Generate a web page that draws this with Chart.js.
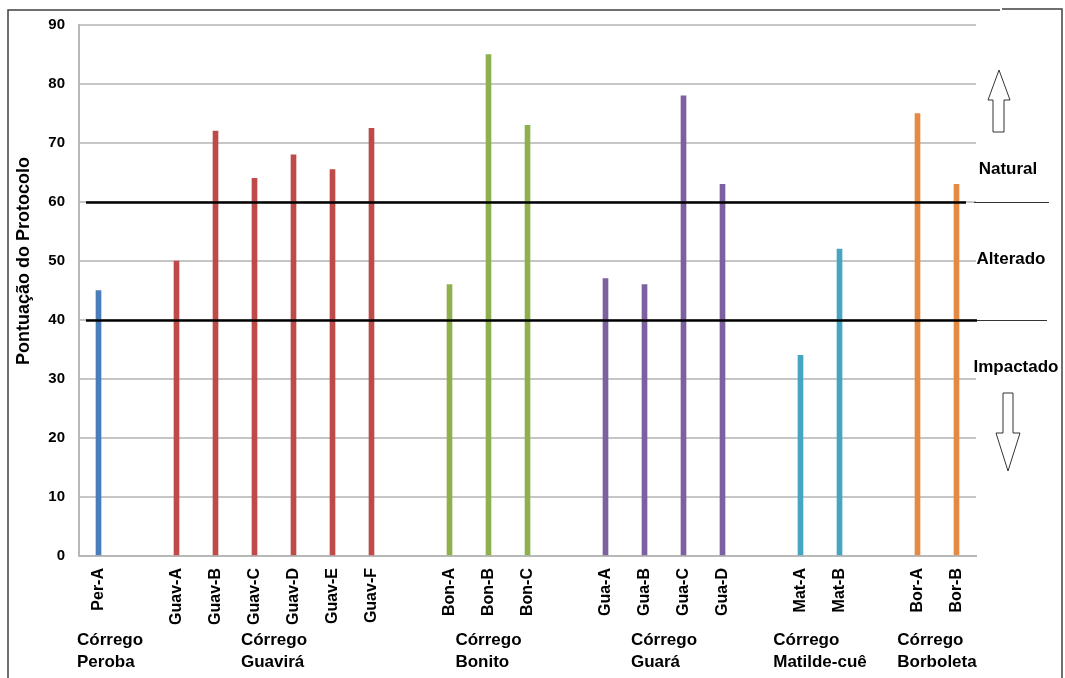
<!DOCTYPE html>
<html>
<head>
<meta charset="utf-8">
<script src="https://cdn.jsdelivr.net/npm/chart.js@4.4.1/dist/chart.umd.min.js"></script>
<style>
  body { margin: 0; background: #fff; }
  #box { width: 1065px; height: 678px; }
</style>
</head>
<body>
<div id="box"><canvas id="myChart" width="1065" height="678"></canvas></div>
<script>
// sites on the x axis ('' = gap between streams)
const sites = ['Per-A', '', 'Guav-A', 'Guav-B', 'Guav-C', 'Guav-D', 'Guav-E', 'Guav-F', '',
  'Bon-A', 'Bon-B', 'Bon-C', '', 'Gua-A', 'Gua-B', 'Gua-C', 'Gua-D', '', 'Mat-A', 'Mat-B', '', 'Bor-A', 'Bor-B']
const scores = [45, null, 50, 72, 64, 68, 65.5, 72.5, null,
  46, 85, 73, null, 47, 46, 78, 63, null, 34, 52, null, 75, 63]
// which stream each site belongs to
const streamOf = [0, null, 1, 1, 1, 1, 1, 1, null, 2, 2, 2, null, 3, 3, 3, 3, null, 4, 4, null, 5, 5]
const streams = [['Córrego', 'Peroba'], ['Córrego', 'Guavirá'], ['Córrego', 'Bonito'],
  ['Córrego', 'Guará'], ['Córrego', 'Matilde-cuê'], ['Córrego', 'Borboleta']]
const streamColors = ['#4a7ebb', '#be4b48', '#8fb04e', '#7d60a0', '#46a5c0', '#e58a44']
const yTicks = [0, 10, 20, 30, 40, 50, 60, 70, 80, 90]
const limits = [60, 40]
const classes = ['Natural', 'Alterado', 'Impactado']
const classAt = [65.5, 50.3, 32]

const FONT = "'Liberation Sans', Arial, sans-serif"

const barColors = streamOf.map(s => s === null ? 'rgba(0,0,0,0)' : streamColors[s])

const extras = {
  id: 'extras',
  afterDatasetsDraw(chart) {
    const ctx = chart.ctx
    const y = chart.scales.y
    const x = chart.scales.x
    const area = chart.chartArea
    ctx.save()

    // outer frame
    ctx.strokeStyle = '#404040'
    ctx.lineWidth = 1.5
    ctx.beginPath()
    ctx.moveTo(8, 678); ctx.lineTo(8, 10); ctx.lineTo(1000, 10)
    ctx.moveTo(1002, 9); ctx.lineTo(1062, 9); ctx.lineTo(1062, 678)
    ctx.stroke()

    // class limits
    const ends = [966, 977]
    const thin = [[974, 1049], [977, 1047]]
    limits.forEach((v, i) => {
      const py = Math.round(y.getPixelForValue(v)) + 0.5
      ctx.strokeStyle = '#000'
      ctx.lineWidth = 2.5
      ctx.beginPath()
      ctx.moveTo(area.left + 7, py); ctx.lineTo(ends[i], py)
      ctx.stroke()
      ctx.strokeStyle = '#333'
      ctx.lineWidth = 1
      ctx.beginPath()
      ctx.moveTo(thin[i][0], py); ctx.lineTo(thin[i][1], py)
      ctx.stroke()
    })

    // class names
    ctx.fillStyle = '#000'
    ctx.font = 'bold 17px ' + FONT
    ctx.textBaseline = 'middle'
    ctx.textAlign = 'center'
    const cx = [1008, 1011, 1016]
    classes.forEach((c, i) => ctx.fillText(c, cx[i], y.getPixelForValue(classAt[i])))

    // arrows
    ctx.fillStyle = '#fff'
    ctx.strokeStyle = '#333'
    ctx.lineWidth = 1
    ctx.beginPath()
    ctx.moveTo(999, 70); ctx.lineTo(1010, 100); ctx.lineTo(1004, 100); ctx.lineTo(1004, 132)
    ctx.lineTo(993, 132); ctx.lineTo(993, 100); ctx.lineTo(988, 100); ctx.closePath()
    ctx.fill(); ctx.stroke()
    ctx.beginPath()
    ctx.moveTo(1003, 393); ctx.lineTo(1013, 393); ctx.lineTo(1013, 433); ctx.lineTo(1020, 433)
    ctx.lineTo(1008, 471); ctx.lineTo(996, 433); ctx.lineTo(1003, 433); ctx.closePath()
    ctx.fill(); ctx.stroke()

    // stream names under the site labels
    ctx.fillStyle = '#000'
    ctx.font = 'bold 17px ' + FONT
    ctx.textAlign = 'left'
    streams.forEach((lines, s) => {
      const idx = streamOf.map((v, i) => v === s ? i : -1).filter(i => i >= 0)
      const mid = (x.getPixelForValue(idx[0]) + x.getPixelForValue(idx[idx.length - 1])) / 2
      const w = Math.max(...lines.map(t => ctx.measureText(t).width))
      const x0 = Math.max(mid - w / 2, area.left - 2)
      ctx.fillText(lines[0], x0, area.bottom + 84)
      ctx.fillText(lines[1], x0, area.bottom + 106)
    })

    // y title
    ctx.translate(24, 261)
    ctx.rotate(-Math.PI / 2)
    ctx.textAlign = 'center'
    ctx.font = 'bold 18px ' + FONT
    ctx.fillText('Pontuação do Protocolo', 0, 0)
    ctx.restore()
  }
}

new Chart(document.getElementById('myChart'), {
  type: 'bar',
  data: {
    labels: sites,
    datasets: [{
      data: scores,
      backgroundColor: barColors,
      barThickness: 5
    }]
  },
  options: {
    responsive: false,
    animation: false,
    layout: { padding: { top: 25, right: 89, left: 0, bottom: 0 } },
    plugins: { legend: { display: false }, tooltip: { enabled: false } },
    scales: {
      x: {
        grid: { display: false },
        border: { display: true, color: '#b8b8b8', width: 2 },
        ticks: {
          autoSkip: false, minRotation: 90, maxRotation: 90, padding: 4,
          color: '#000', font: { family: FONT, size: 16, weight: 'bold' }
        },
        afterFit(scale) { scale.height = 122 }
      },
      y: {
        min: 0, max: 90,
        afterBuildTicks(scale) { scale.ticks = yTicks.map(v => ({ value: v })) },
        grid: { color: '#c6c6c6', lineWidth: 2, drawTicks: false },
        border: { display: true, color: '#b8b8b8', width: 2 },
        ticks: {
          padding: 14, color: '#000',
          font: { family: FONT, size: 15, weight: 'bold' }
        },
        afterFit(scale) { scale.width = 79 }
      }
    }
  },
  plugins: [extras]
})
</script>
</body>
</html>
